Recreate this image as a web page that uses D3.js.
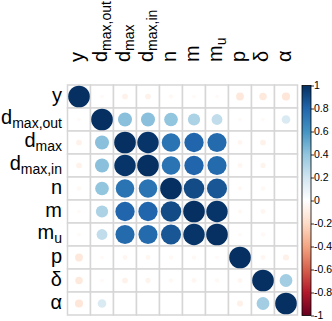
<!DOCTYPE html>
<html>
<head>
<meta charset="utf-8">
<script src="https://cdn.jsdelivr.net/npm/d3@7"></script>
<style>
  body { margin: 0; background: #fff; }
  svg { display: block; font-family: "Liberation Sans", Arial, sans-serif; }
</style>
</head>
<body>
<svg width="332" height="321"></svg>
<script>
// variable labels: base text + subscript
var labelBase = ["y", "d", "d", "d", "n", "m", "m", "p", "\u03b4", "\u03b1"];
var labelSub  = ["", "max,out", "max", "max,in", "", "", "u", "", "", ""];

// correlation matrix, row by row
var rowY     = [1, -0.03, -0.07, -0.07, -0.04, -0.03, -0.03, -0.13, -0.12, -0.14];
var rowDout  = [-0.03, 1, 0.42, 0.42, 0.40, 0.32, 0.25, -0.03, -0.03, 0.16];
var rowDmax  = [-0.07, 0.42, 1, 0.98, 0.74, 0.80, 0.78, -0.05, -0.07, 0.00];
var rowDin   = [-0.07, 0.42, 0.98, 1, 0.74, 0.80, 0.78, -0.05, -0.06, 0.01];
var rowN     = [-0.04, 0.40, 0.74, 0.74, 1, 0.90, 0.86, -0.04, -0.04, 0.01];
var rowM     = [-0.03, 0.32, 0.80, 0.80, 0.90, 1, 0.98, -0.04, -0.05, 0.01];
var rowMu    = [-0.03, 0.25, 0.78, 0.78, 0.86, 0.98, 1, -0.03, -0.04, 0.01];
var rowP     = [-0.13, -0.03, -0.05, -0.05, -0.04, -0.04, -0.03, 1, -0.05, -0.08];
var rowDelta = [-0.12, -0.03, -0.07, -0.06, -0.04, -0.05, -0.04, -0.05, 1, 0.35];
var rowAlpha = [-0.14, 0.16, 0.00, 0.01, 0.01, 0.01, 0.01, -0.08, 0.35, 1];

var legendTicks = [1, 0.8, 0.6, 0.4, 0.2, 0, -0.2, -0.4, -0.6, -0.8, -1];

var matrix = [rowY, rowDout, rowDmax, rowDin, rowN, rowM, rowMu, rowP, rowDelta, rowAlpha];
var n = labelBase.length;

var svg = d3.select("svg");

var gx0 = 67.5, gy0 = 85, cell = 23;

var xPos = d3.scaleBand().domain(d3.range(n)).range([gx0, gx0 + n * cell]);
var yPos = d3.scaleBand().domain(d3.range(n)).range([gy0, gy0 + n * cell]);

// RdBu palette as used by corrplot
var palette = ["#67001F", "#B2182B", "#D6604D", "#F4A582", "#FDDBC7", "#FFFFFF",
               "#D1E5F0", "#92C5DE", "#4393C3", "#2166AC", "#053061"];
var color = d3.scaleLinear()
    .domain(d3.range(11).map(function(i) { return -1 + i * 0.2; }))
    .range(palette);

// circle area follows |r|
var radius = d3.scaleSqrt().domain([0, 1]).range([0, cell * 0.47]);

var cells = [];
matrix.forEach(function(row, i) {
  row.forEach(function(v, j) { cells.push({ i: i, j: j, v: v }); });
});

// grid
svg.append("g")
  .selectAll("rect")
  .data(cells)
  .enter().append("rect")
  .attr("x", function(d) { return xPos(d.j); })
  .attr("y", function(d) { return yPos(d.i); })
  .attr("width", cell)
  .attr("height", cell)
  .attr("fill", "white")
  .attr("stroke", "#d6d6d6")
  .attr("stroke-width", 1.5);

// circles
svg.append("g")
  .selectAll("circle")
  .data(cells)
  .enter().append("circle")
  .attr("cx", function(d) { return xPos(d.j) + cell / 2; })
  .attr("cy", function(d) { return yPos(d.i) + cell / 2; })
  .attr("r", function(d) { return radius(Math.abs(d.v)); })
  .attr("fill", function(d) { return color(d.v); });

function addLabel(sel, i) {
  sel.append("tspan").text(labelBase[i]);
  if (labelSub[i]) {
    sel.append("tspan").attr("font-size", 14).attr("dy", 4).text(labelSub[i]);
  }
}

// row labels
svg.append("g")
  .selectAll("text")
  .data(d3.range(n))
  .enter().append("text")
  .attr("x", 62)
  .attr("y", function(i) { return yPos(i) + cell / 2 + (labelSub[i] ? 4.5 : 5.5); })
  .attr("text-anchor", "end")
  .attr("font-size", 20)
  .attr("fill", "black")
  .each(function(i) { addLabel(d3.select(this), i); });

// column labels
svg.append("g")
  .selectAll("text")
  .data(d3.range(n))
  .enter().append("text")
  .attr("transform", function(i) {
    return "translate(" + (xPos(i) + cell / 2 + 5) + ",62) rotate(-90)";
  })
  .attr("text-anchor", "start")
  .attr("font-size", 20)
  .attr("fill", "black")
  .each(function(i) { addLabel(d3.select(this), i); });

// colour legend
var lx = 302, lw = 9, ly0 = 85.5, ly1 = 315.5;
var legendY = d3.scaleLinear().domain([1, -1]).range([ly0, ly1]);

var grad = svg.append("defs").append("linearGradient")
  .attr("id", "legendGrad")
  .attr("x1", 0).attr("y1", 1).attr("x2", 0).attr("y2", 0);
palette.forEach(function(c, k) {
  grad.append("stop").attr("offset", (k / 10 * 100) + "%").attr("stop-color", c);
});

svg.append("rect")
  .attr("x", lx).attr("y", ly0)
  .attr("width", lw).attr("height", ly1 - ly0)
  .attr("fill", "url(#legendGrad)")
  .attr("stroke", "black")
  .attr("stroke-width", 0.8);

var legendAxis = d3.axisRight(legendY)
  .tickValues(legendTicks)
  .tickSize(3)
  .tickPadding(0)
  .tickFormat(function(d) { return d === 0 ? "0" : String(d); });

var lg = svg.append("g")
  .attr("transform", "translate(" + (lx + lw) + ",0)")
  .call(legendAxis);
lg.select(".domain").remove();
lg.selectAll("text")
  .attr("font-family", "Liberation Sans, Arial, sans-serif")
  .attr("font-size", 10.5)
  .attr("fill", "black");
lg.selectAll("line").attr("stroke", "black").attr("stroke-width", 0.8);
</script>
</body>
</html>
